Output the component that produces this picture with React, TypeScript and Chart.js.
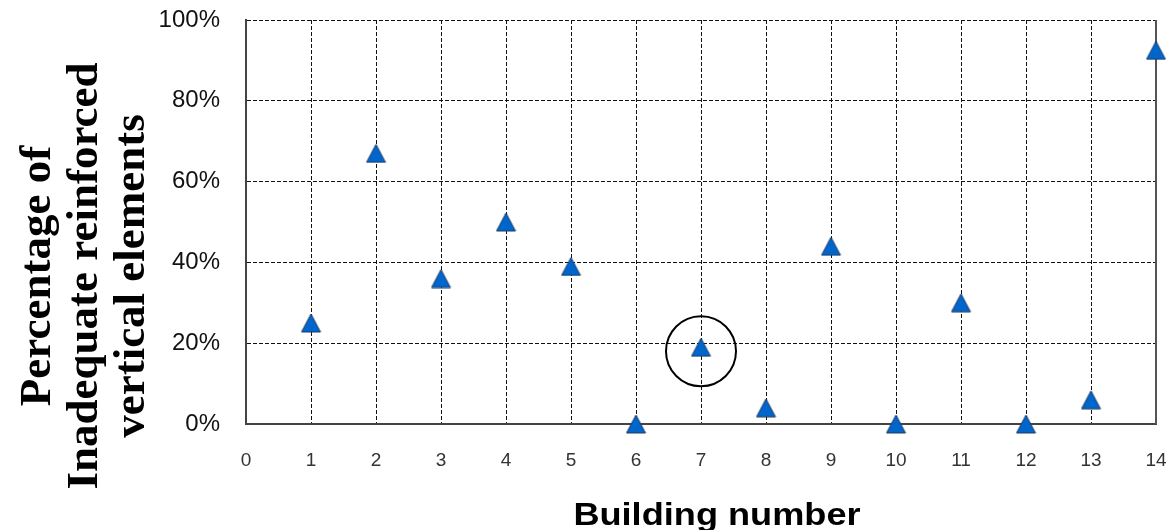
import React, { useEffect, useRef } from 'react';
import { Chart, registerables } from 'chart.js';

Chart.register(...registerables);

// ---- data ----
const buildings = [1, 2, 3, 4, 5, 6, 7, 8, 9, 10, 11, 12, 13, 14];
const inadequatePct = [25, 67, 36, 50, 39, 0, 19, 4, 44, 0, 30, 0, 6, 92.5];
const highlightX = [7];
const highlightY = [18];
const xTickValues = [0, 1, 2, 3, 4, 5, 6, 7, 8, 9, 10, 11, 12, 13, 14];
const yTickValues = [0, 20, 40, 60, 80, 100];
const yTitleLines = ['Percentage of', 'Inadequate reinforced', 'vertical elements'];
const xTitle = 'Building number';

function makeTriangle(): HTMLCanvasElement {
  const c = document.createElement('canvas');
  const w = 21;
  const h = 20;
  c.width = w;
  c.height = h;
  const ctx = c.getContext('2d')!;
  ctx.beginPath();
  ctx.moveTo(w / 2, 1);
  ctx.lineTo(w - 1, h - 1);
  ctx.lineTo(1, h - 1);
  ctx.closePath();
  ctx.fillStyle = '#0066CC';
  ctx.fill();
  ctx.strokeStyle = '#1f3a63';
  ctx.lineWidth = 1;
  ctx.stroke();
  return c;
}

const decorPlugin = {
  id: 'decor',
  beforeDatasetsDraw(chart: any) {
    const { ctx, chartArea } = chart;
    ctx.save();
    ctx.strokeStyle = '#555';
    ctx.lineWidth = 2;
    ctx.beginPath();
    ctx.moveTo(chartArea.right, chartArea.top);
    ctx.lineTo(chartArea.right, chartArea.bottom);
    ctx.stroke();
    ctx.restore();
  },
  afterDraw(chart: any) {
    const { ctx } = chart;
    ctx.save();
    ctx.fillStyle = '#000';
    ctx.textAlign = 'center';
    ctx.textBaseline = 'alphabetic';
    ctx.font = 'bold 45px "Liberation Serif", "Times New Roman", serif';
    const baselines = [50, 97, 144];
    yTitleLines.forEach((line, i) => {
      ctx.save();
      ctx.translate(baselines[i], 276);
      ctx.rotate(-Math.PI / 2);
      ctx.fillText(line, 0, 0);
      ctx.restore();
    });
    ctx.font = 'bold 32px "Liberation Sans", Arial, sans-serif';
    ctx.save();
    ctx.translate(717, 525);
    ctx.scale(1.13, 1);
    ctx.fillText(xTitle, 0, 0);
    ctx.restore();
    ctx.restore();
  },
};

function zeroPadding(scale: any) {
  scale.paddingTop = 0;
  scale.paddingBottom = 0;
  scale.paddingLeft = 0;
  scale.paddingRight = 0;
}

export default function App() {
  const ref = useRef<HTMLCanvasElement | null>(null);

  useEffect(() => {
    if (!ref.current) return;
    const tri = makeTriangle();
    const chart = new Chart(ref.current, {
      type: 'scatter',
      data: {
        datasets: [
          {
            label: 'Inadequate',
            data: buildings.map((b, i) => ({ x: b, y: inadequatePct[i] })),
            pointStyle: tri as any,
            pointRadius: 10,
            clip: false as any,
            order: 1,
          },
          {
            label: 'highlight',
            data: highlightX.map((x, i) => ({ x, y: highlightY[i] })),
            pointStyle: 'circle',
            pointRadius: 35,
            backgroundColor: 'rgba(0,0,0,0)',
            borderColor: '#000',
            pointBorderWidth: 2,
            borderWidth: 2,
            clip: false as any,
            order: 2,
          },
        ],
      },
      options: {
        animation: false,
        responsive: false,
        events: [],
        layout: { autoPadding: false, padding: { top: 20, right: 10, left: 0, bottom: 0 } },
        plugins: {
          legend: { display: false },
          tooltip: { enabled: false },
          title: { display: false },
        },
        scales: {
          x: {
            type: 'linear',
            min: 0,
            max: 14,
            afterBuildTicks: (scale: any) => {
              scale.ticks = xTickValues.map((v) => ({ value: v }));
            },
            afterFit: (scale: any) => {
              scale.height = 106;
              zeroPadding(scale);
            },
            ticks: {
              color: '#333',
              padding: 25,
              font: { family: '"Liberation Sans", Arial, sans-serif', size: 19 },
            },
            grid: { color: '#111', lineWidth: 1, drawTicks: false },
            border: { display: true, color: '#444', width: 2, dash: [4, 2] },
          },
          y: {
            type: 'linear',
            min: 0,
            max: 100,
            afterBuildTicks: (scale: any) => {
              scale.ticks = yTickValues.map((v) => ({ value: v }));
            },
            afterFit: (scale: any) => {
              scale.width = 246;
              zeroPadding(scale);
            },
            ticks: {
              color: '#111',
              padding: 26,
              font: { family: '"Liberation Sans", Arial, sans-serif', size: 24 },
              callback: (v: any) => `${v}%`,
            },
            grid: { color: '#111', lineWidth: 1, drawTicks: false },
            border: { display: true, color: '#444', width: 2, dash: [4, 2] },
          },
        },
      },
      plugins: [decorPlugin],
    } as any);
    return () => chart.destroy();
  }, []);

  return (
    <div style={{ position: 'absolute', left: 0, top: 0, width: 1166, height: 530, background: '#fff' }}>
      <canvas ref={ref} width={1166} height={530} style={{ display: 'block' }} />
    </div>
  );
}
